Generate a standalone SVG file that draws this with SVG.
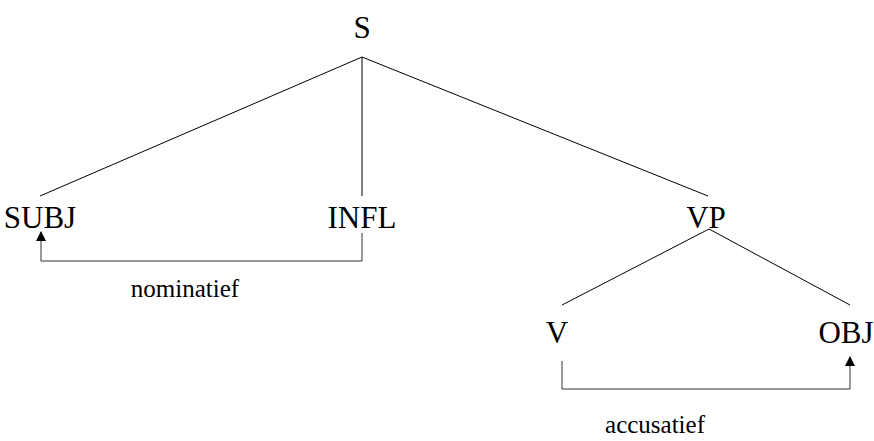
<svg xmlns="http://www.w3.org/2000/svg" width="874" height="441" viewBox="0 0 874 441">
<style>
.node{font-family:"Liberation Serif","Times New Roman",serif;font-size:31px;fill:#000;text-anchor:middle}
.lbl{font-family:"Liberation Serif","Times New Roman",serif;font-size:25px;fill:#000;text-anchor:middle}
.edge{stroke:#000;stroke-width:1;fill:none}
.br{stroke:#333;stroke-width:1;fill:none}
</style>
<defs>
<marker id="arr" viewBox="0 0 10 10" refX="9" refY="5" markerWidth="10" markerHeight="10" markerUnits="userSpaceOnUse" orient="auto">
<path d="M0,0 L10,5 L0,10 z" fill="#000"/>
</marker>
</defs>
<rect width="874" height="441" fill="#fff"/>
<g id="connectors">
<line class="edge" x1="362" y1="57" x2="40" y2="196"/>
<line class="edge" x1="362" y1="57" x2="362" y2="196"/>
<line class="edge" x1="362" y1="57" x2="708" y2="196"/>
<line class="edge" x1="709" y1="229" x2="562" y2="305"/>
<line class="edge" x1="709" y1="229" x2="850" y2="305"/>
<path class="br" d="M362,233 V261 H41 V232" marker-end="url(#arr)"/>
<path class="br" d="M562,361 V389 H850 V357" marker-end="url(#arr)"/>
<text class="lbl" x="185" y="297">nominatief</text>
<text class="lbl" x="655" y="433">accusatief</text>
</g>
<g id="S"><text class="node" x="362" y="38">S</text></g>
<g id="SUBJ"><text class="node" x="40" y="228">SUBJ</text></g>
<g id="INFL"><text class="node" x="362" y="228">INFL</text></g>
<g id="VP"><text class="node" x="706" y="228">VP</text></g>
<g id="V"><text class="node" x="557" y="343">V</text></g>
<g id="OBJ"><text class="node" x="846" y="343">OBJ</text></g>
</svg>
